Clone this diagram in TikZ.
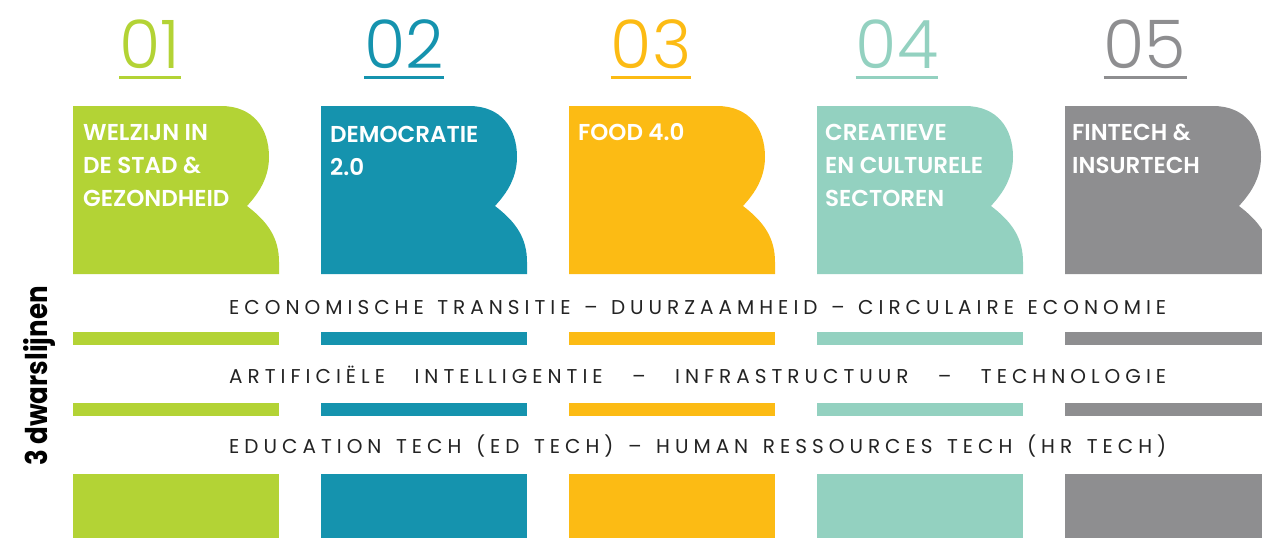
\documentclass[tikz,border=0pt]{standalone}
\usepackage{fontspec}
\setmainfont{Poppins}
\IfFontExistsTF{Poppins Light}{\newfontfamily\numfont{Poppins Light}}{\newfontfamily\numfont{Poppins}}
\IfFontExistsTF{Poppins SemiBold}{\newfontfamily\headfont{Poppins SemiBold}}{\newfontfamily\headfont{Poppins Bold}}
\newfontfamily\trackfont{Poppins}[LetterSpace=25]
\definecolor{cgreen}{RGB}{179,211,53}
\definecolor{cteal}{RGB}{21,147,174}
\definecolor{cyellow}{RGB}{252,187,20}
\definecolor{cmint}{RGB}{147,209,192}
\definecolor{cgrey}{RGB}{142,142,144}
\definecolor{ctext}{RGB}{35,35,35}
\tikzset{
  num/.style={inner sep=0pt, anchor=base, font=\numfont\fontsize{67}{67}\selectfont},
  head/.style={inner sep=0pt, anchor=base west, text=white, font=\headfont\fontsize{23}{23}\selectfont},
  track/.style={inner sep=0pt, anchor=base west, text=ctext, font=\trackfont\fontsize{20}{20}\selectfont},
  side/.style={inner sep=0pt, anchor=base, rotate=90, text=black, font=\bfseries\fontsize{30}{30}\selectfont}
}
\begin{document}
\begin{tikzpicture}[x=1pt,y=-1pt]
\useasboundingbox (0,0) rectangle (1262,538);
\clip (0,0) rectangle (1262,538);
\foreach \L/\c in {73/cgreen,321/cteal,569/cyellow,817/cmint,1065/cgrey}{
  \fill[\c] (\L,106) -- ({\L+148},106)
    .. controls ({\L+180},106) and ({\L+196},128) .. ({\L+196},157)
    .. controls ({\L+196},182) and ({\L+181},198) .. ({\L+174},206)
    .. controls ({\L+195},222) and ({\L+206},238) .. ({\L+206},262)
    -- ({\L+206},274) -- (\L,274) -- cycle;
  \fill[\c] (\L,332) rectangle ({\L+206},345);
  \fill[\c] (\L,403) rectangle ({\L+206},416);
  \fill[\c] (\L,474) rectangle ({\L+206},538);
}
% numbers
\foreach \x/\c/\t/\n in {150/cgreen/01/n1,404/cteal/02/n2,651/cyellow/03/n3,897/cmint/04/n4,1145/cgrey/05/n5}{
  \node[num,text=\c] (\n) at (\x,68) {\t};
  \draw[\c,line width=3pt] ([yshift=-9pt]\n.base west) -- ([yshift=-9pt]\n.base east);
}
% headings
\node[head] (h1a) at (83,140) {WELZIJN IN};
\node[head] (h1b) at (83,173) {DE STAD \&};
\node[head] (h1c) at (83,206) {GEZONDHEID};
\node[head] (h2a) at (330,142) {DEMOCRATIE};
\node[head] (h2b) at (330,175) {2.0};
\node[head] (h3a) at (578,140) {FOOD 4.0};
\node[head] (h4a) at (825,140) {CREATIEVE};
\node[head] (h4b) at (825,173) {EN CULTURELE};
\node[head] (h4c) at (825,206) {SECTOREN};
\node[head] (h5a) at (1072,140) {FINTECH \&};
\node[head] (h5b) at (1072,173) {INSURTECH};
% transversal lines
\node[track] (t1) at (229,314) {\makebox[937pt][s]{ECONOMISCHE TRANSITIE – DUURZAAMHEID – CIRCULAIRE ECONOMIE}};
\node[track] (t2) at (229,383) {\makebox[937pt][s]{ARTIFICIËLE INTELLIGENTIE – INFRASTRUCTUUR – TECHNOLOGIE}};
\node[track] (t3) at (229,453) {\makebox[937pt][s]{EDUCATION TECH (ED TECH) – HUMAN RESSOURCES TECH (HR TECH)}};
\node[side] (sd) at (47,376) {\scalebox{0.87}[1]{3 dwarslijnen}};
\end{tikzpicture}
\end{document}
